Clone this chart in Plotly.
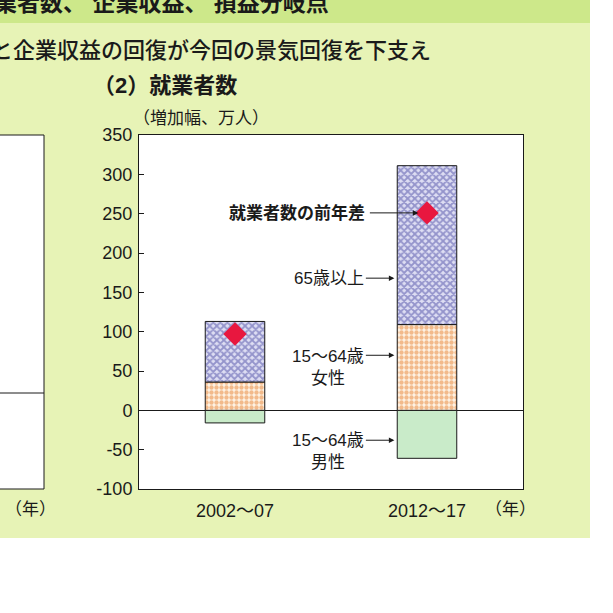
import plotly.graph_objects as go

# data (万人, 増加幅)
periods = ["2002～07", "2012～17"]
male_15_64 = [-16, -61]
female_15_64 = [36, 109]
over_65 = [77, 202]
total_diff = [97, 251]
y_ticks = [-100, -50, 0, 50, 100, 150, 200, 250, 300, 350]
y_tick_labels = ["-100", "-50", "0", "50", "100", "150", "200", "250", "300", "350"]

FONT = "Liberation Sans, Noto Sans CJK JP, sans-serif"
W, H = 613, 613
L, R, T, B = 139, 523, 135, 489   # plot area in pixels


def px(x):
    return (x - L) / (R - L)


def py(y):
    return (B - y) / (B - T)


fig = go.Figure()

fig.add_trace(go.Bar(x=periods, y=male_15_64, name="15～64歳 男性",
                     marker=dict(color="#c9ebc9", line=dict(color="#1a1a1a", width=1)),
                     width=0.31))
fig.add_trace(go.Bar(x=periods, y=female_15_64, name="15～64歳 女性",
                     marker=dict(color="white", line=dict(color="#1a1a1a", width=1),
                                 pattern=dict(shape=".", fgcolor="#e8822f", bgcolor="#fdf3e6",
                                              size=5, solidity=0.6)),
                     width=0.31))
fig.add_trace(go.Bar(x=periods, y=over_65, name="65歳以上",
                     marker=dict(color="white", line=dict(color="#1a1a1a", width=1),
                                 pattern=dict(shape="x", fgcolor="#4a4aa4", bgcolor="#dedef3",
                                              size=5, solidity=0.6)),
                     width=0.31))
fig.add_trace(go.Scatter(x=periods, y=total_diff, mode="markers", name="就業者数の前年差",
                         marker=dict(symbol="diamond", size=18, color="#e8173f")))

shapes = [
    # background panels
    dict(type="rect", xref="paper", yref="paper", x0=px(-5), x1=px(590), y0=py(538), y1=py(-5),
         fillcolor="#e7f3b6", line=dict(width=0), layer="below"),
    dict(type="rect", xref="paper", yref="paper", x0=px(-5), x1=px(590), y0=py(23), y1=py(-5),
         fillcolor="#cde88a", line=dict(width=0), layer="below"),
    # plot area
    dict(type="rect", xref="paper", yref="paper", x0=0, x1=1, y0=0, y1=1,
         fillcolor="white", line=dict(width=0), layer="below"),
    # neighbouring panel (cut off)
    dict(type="rect", xref="paper", yref="paper", x0=px(-10), x1=px(44), y0=0, y1=1,
         fillcolor="white", line=dict(color="#1a1a1a", width=1), layer="below"),
    dict(type="line", xref="paper", yref="paper", x0=px(-10), x1=px(44), y0=py(393), y1=py(393),
         line=dict(color="#1a1a1a", width=1)),
]

ann = []


def label(text, x, y, size=15, weight=400, xanchor="center", yref="paper"):
    ann.append(dict(text=text, x=x, y=y, xref="paper", yref=yref, xanchor=xanchor,
                    yanchor="middle", showarrow=False, align="center",
                    font=dict(family=FONT, size=size, color="#1a1a1a", weight=weight)))


def arrow(xcat, yval, dx):
    ann.append(dict(text="", x=xcat, y=yval, xref="x", yref="y", ax=dx, ay=0,
                    showarrow=True, arrowhead=2, arrowsize=1.1, arrowwidth=1,
                    arrowcolor="#1a1a1a"))


gap = "\u00a0"
label("業者数、" + gap + "企業収益、" + gap + "損益分岐点", px(331), py(3), size=23, weight=700,
      xanchor="right")
label("と企業収益の回復が今回の景気回復を下支え", px(-11), py(50), size=22, weight=500,
      xanchor="left")
label("（2）就業者数", px(91), py(85), size=22, weight=700, xanchor="left")
label("（増加幅、万人）", px(131), py(118), size=17, xanchor="left")
label("（年）", px(510), py(509), size=17)
label("（年）", px(30), py(509), size=17)

label("就業者数の前年差", px(367), 251, size=17, weight=700, xanchor="right", yref="y")
label("65歳以上", px(366), 168, size=17, xanchor="right", yref="y")
label("15～64歳<br>女性", px(366), 55, size=17, xanchor="right", yref="y")
label("15～64歳<br>男性", px(366), -52, size=17, xanchor="right", yref="y")

arrow(0.955, 251, -50)
arrow(0.83, 168, -30)
arrow(0.83, 70, -30)
arrow(0.83, -38, -30)

fig.update_layout(
    width=W, height=H,
    margin=dict(l=L, r=W - R, t=T, b=H - B, pad=0),
    paper_bgcolor="white", plot_bgcolor="rgba(0,0,0,0)",
    barmode="relative", showlegend=False,
    font=dict(family=FONT, size=18, color="#1a1a1a"),
    shapes=shapes, annotations=ann,
)
fig.update_xaxes(type="category", range=[-0.5, 1.5], showline=True, mirror=True,
                 linecolor="#1a1a1a", linewidth=1, ticks="", showgrid=False,
                 tickfont=dict(size=18), ticklabelstandoff=5)
fig.update_yaxes(range=[-100, 350], tickvals=y_ticks, ticktext=y_tick_labels,
                 showline=True, mirror=True,
                 linecolor="#1a1a1a", linewidth=1, ticks="inside", ticklen=5,
                 tickcolor="#1a1a1a", showgrid=False, zeroline=True,
                 zerolinecolor="#1a1a1a", zerolinewidth=1, tickfont=dict(size=18),
                 ticklabelstandoff=2)

fig.write_html("out.html", config={"displayModeBar": False},
               post_script="document.body.style.margin='0px';")
